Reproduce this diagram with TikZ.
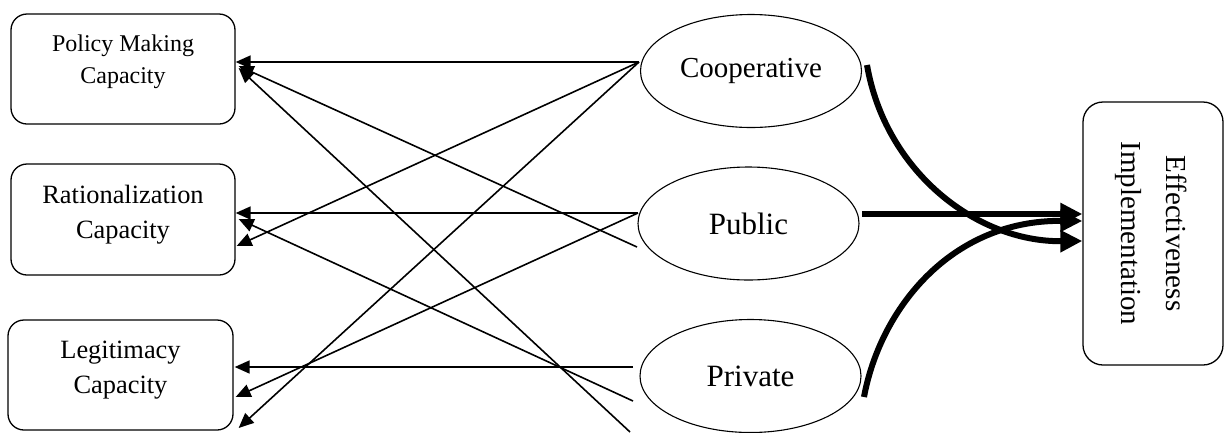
\documentclass[tikz,border=0pt]{standalone}
\usepackage{fontspec}
\setmainfont{Liberation Serif}
\usepackage{graphicx}
\usetikzlibrary{shapes.geometric,arrows.meta}
\begin{document}
\begin{tikzpicture}[x=1pt,y=-1pt,
 capbox/.style={draw,line width=1.3pt,rounded corners=16pt,align=center,inner sep=0pt},
 oval/.style={draw,ellipse,line width=1.1pt,inner sep=0pt,minimum width=221pt,minimum height=113pt},
 thinarrow/.style={line width=1.6pt,-{Triangle[length=15pt,width=13pt]}},
 thickarrow/.style={line width=6pt,-{Triangle[length=22pt,width=21pt]}}]
\useasboundingbox (0,0) rectangle (1224,432);
% capacity boxes
\node[capbox,minimum width=224pt,minimum height=110pt,font=\fontsize{24}{32}\selectfont] (pol) at (123,69) {Policy Making\\Capacity\\[-13pt]\mbox{}};
\node[capbox,minimum width=224pt,minimum height=111pt,font=\fontsize{26.4}{35}\selectfont] (rat) at (123,219.5) {Rationalization\\Capacity\\[-20pt]\mbox{}};
\node[capbox,minimum width=225pt,minimum height=110pt,font=\fontsize{26.4}{35}\selectfont] (leg) at (120.5,375) {Legitimacy\\Capacity\\[-19pt]\mbox{}};
\node[capbox,rounded corners=20pt,minimum width=140pt,minimum height=263pt] (eff) at (1153,233.5)
  {\rotatebox{-90}{\fontsize{29}{45}\selectfont\begin{tabular}{@{}c@{}}Effectiveness\\Implementation\end{tabular}}};
% ellipses
\node[oval,font=\fontsize{29}{35}\selectfont] (coop) at (751,71) {Cooperative};
\node[oval,font=\fontsize{31}{37}\selectfont] (pub) at (748.5,223.5) {Public};
\node[oval,font=\fontsize{31}{37}\selectfont] (priv) at (750.5,376) {Private};
% start points of thin connectors
\coordinate (c0) at (639,62);
\coordinate (p0) at (638,213);
\coordinate (p1) at (637,247);
\coordinate (r0) at (633,367);
\coordinate (r1) at (633,401);
\coordinate (r2) at (630,432);
% thin connectors
\draw[thinarrow] (c0) -- (pol.east |- 0,62);
\draw[thinarrow] (c0) -- ([xshift=1pt]rat.east |- 0,246);
\draw[thinarrow] (c0) -- ([xshift=5pt]leg.east |- 0,428);
\draw[thinarrow] (p0) -- (rat.east |- 0,213);
\draw[thinarrow] (p1) -- ([xshift=3pt]pol.east |- 0,66);
\draw[thinarrow] (p0) -- ([xshift=2pt]leg.east |- 0,397);
\draw[thinarrow] (r0) -- ([xshift=1pt]leg.east |- 0,367);
\draw[thinarrow] (r1) -- ([xshift=3pt]rat.east |- 0,219);
\draw[thinarrow] (r2) -- ([xshift=3pt]pol.east |- 0,68);
% thick connectors
\coordinate (ce) at (867,65);
\coordinate (pe) at (862,214);
\coordinate (re) at (864,397);
\draw[thickarrow] (ce) .. controls (885,170) and (975,242) .. (eff.west |- 0,241);
\draw[thickarrow] (pe) -- (eff.west |- 0,214);
\draw[thickarrow] (re) .. controls (880,310) and (950,220) .. (eff.west |- 0,221);
\end{tikzpicture}
\end{document}
